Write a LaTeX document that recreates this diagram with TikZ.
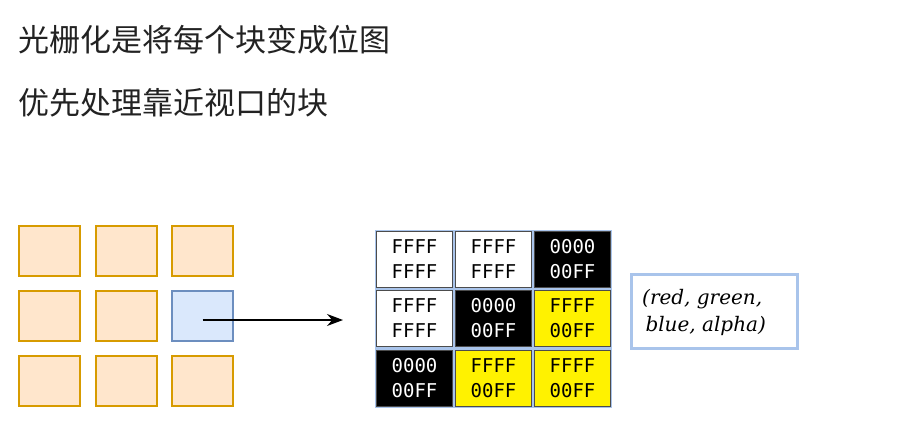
\documentclass[tikz,border=0pt]{standalone}
\usepackage{fontspec}
\newfontfamily\cjk{Noto Sans CJK SC}
\newfontfamily\hexfont{DejaVu Sans Mono}
\setmainfont{DejaVu Serif}
\usetikzlibrary{arrows.meta}
\definecolor{tileorange}{HTML}{FFE6CC}
\definecolor{tileorangeline}{HTML}{D79B00}
\definecolor{tileblue}{HTML}{DAE8FC}
\definecolor{tileblueline}{HTML}{6C8EBF}
\definecolor{gridblue}{HTML}{A9C4EB}
\definecolor{titlegray}{HTML}{222222}
\tikzset{
	tile/.style={draw=tileorangeline, fill=tileorange, line width=2pt, minimum width=61pt, minimum height=50pt, inner sep=0pt},
	pix/.style={draw=black!70, line width=0.8pt, minimum width=76pt, minimum height=56pt, inner sep=0pt, align=center, font=\hexfont\fontsize{19}{25}\selectfont},
}
\begin{document}
\begin{tikzpicture}[x=1pt, y=-1pt]
		\useasboundingbox (0,0) rectangle (898,437);
		\node[anchor=west, inner sep=0pt, text=titlegray, font=\cjk\fontsize{31}{31}\selectfont] (t1) at (18,40) {光栅化是将每个块变成位图};
		\node[anchor=west, inner sep=0pt, text=titlegray, font=\cjk\fontsize{31}{31}\selectfont] (t2) at (18,103) {优先处理靠近视口的块};
		% tiles
		\foreach \i in {1,2,3}{
			\foreach \j in {1,2,3}{
				\node[tile] (b\i\j) at ({49.5+76.5*(\i-1)},{251+65*(\j-1)}) {};
			}
		}
		\node[tile, draw=tileblueline, fill=tileblue] (b32) at (202.5,316) {};
		\coordinate (tip) at (343,320);
		\draw[-{Stealth[length=16pt,width=12pt]}, line width=1.3pt] ([yshift=-4pt]b32.center) -- (tip);
		% bitmap
		\fill[gridblue] (375,230) rectangle (612,408);
		\node[pix, fill=white] (p11) at (414.5,259.5) {FFFF\\FFFF};
		\node[pix, fill=white] (p21) at (493.5,259.5) {FFFF\\FFFF};
		\node[pix, fill=black, text=white] (p31) at (572.5,259.5) {0000\\00FF};
		\node[pix, fill=white] (p12) at (414.5,318.5) {FFFF\\FFFF};
		\node[pix, fill=black, text=white] (p22) at (493.5,318.5) {0000\\00FF};
		\node[pix, fill=yellow] (p32) at (572.5,318.5) {FFFF\\00FF};
		\node[pix, fill=black, text=white] (p13) at (414.5,378) {0000\\00FF};
		\node[pix, fill=yellow] (p23) at (493.5,378) {FFFF\\00FF};
		\node[pix, fill=yellow] (p33) at (572.5,378) {FFFF\\00FF};
		\node[draw=gridblue, line width=3pt, minimum width=166pt, minimum height=74pt] (rgba) at (714,311) {};
		\node[anchor=west, inner sep=0pt, align=left, font=\itshape\fontsize{20}{27}\selectfont] (rgbatxt) at (642,312) {(red, green,\\ \,blue, alpha)};
	\end{tikzpicture}
\end{document}
